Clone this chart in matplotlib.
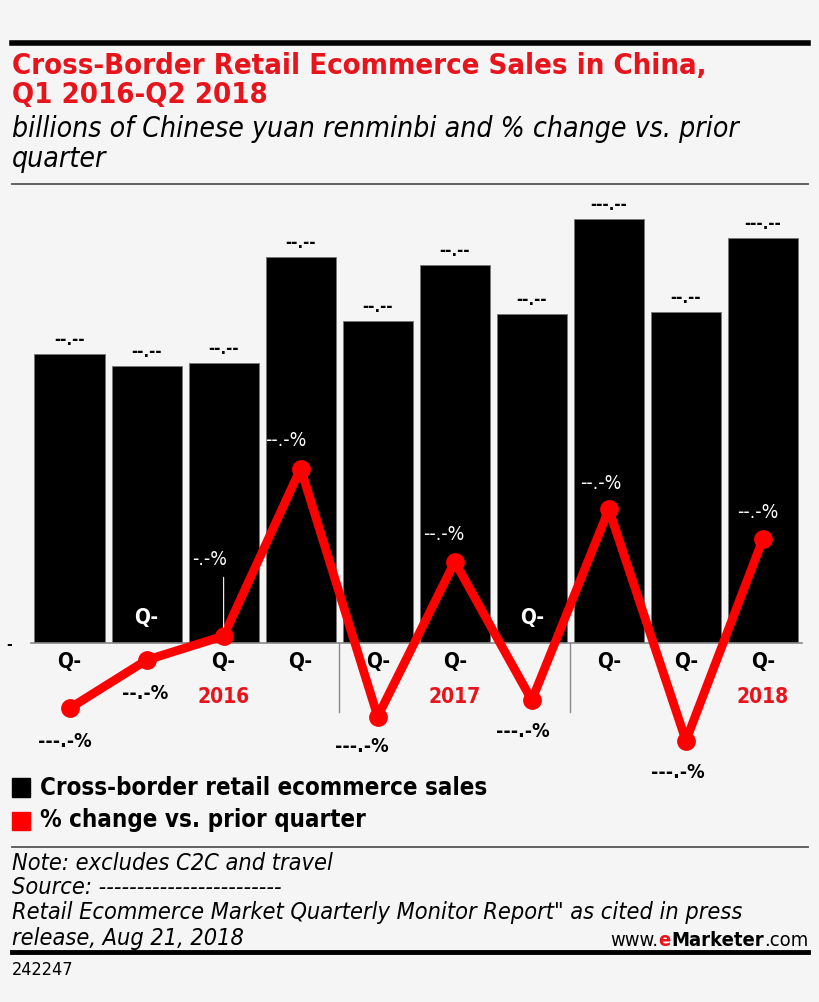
import matplotlib
matplotlib.use("Agg")
import matplotlib.pyplot as plt
from matplotlib.transforms import blended_transform_factory
from matplotlib.patches import Rectangle
from matplotlib.lines import Line2D

# ---------------- data ----------------
quarters = ["Q1 2016", "Q2 2016", "Q3 2016", "Q4 2016", "Q1 2017",
            "Q2 2017", "Q3 2017", "Q4 2017", "Q1 2018", "Q2 2018"]
q_labels = ["Q-"] * 10
sales = [72.25, 69.25, 70.0, 96.5, 80.5, 94.5, 82.25, 106.0, 82.75, 101.25]
sales_labels = ["--.--", "--.--", "--.--", "--.--", "--.--",
                "--.--", "--.--", "---.--", "--.--", "---.--"]
pct_change = [-14.8, -4.2, 1.1, 37.9, -16.6, 17.4, -13.0, 28.9, -21.9, 22.4]
pct_labels = ["---.-%", "--.-%", "-.-%", "--.-%", "---.-%",
              "--.-%", "---.-%", "--.-%", "---.-%", "--.-%"]
years = ["2016", "2017", "2018"]
year_pos = [2, 5, 9]
title = "Cross-Border Retail Ecommerce Sales in China,\nQ1 2016-Q2 2018"
subtitle = "billions of Chinese yuan renminbi and % change vs. prior\nquarter"
legend_labels = ["Cross-border retail ecommerce sales", "% change vs. prior quarter"]
notes = ["Note: excludes C2C and travel",
         "Source: ------------------------",
         "Retail Ecommerce Market Quarterly Monitor Report\" as cited in press",
         "release, Aug 21, 2018"]
chart_id = "242247"

# ---------------- style / layout ----------------
W, H = 820, 1002
BG = "#f5f5f5"
RED = "#ff0000"
TRED = "#e8141c"
plt.rcParams["font.family"] = ["DejaVu Sans"]
plt.rcParams["font.stretch"] = "condensed"
ST = "condensed"
# label offsets (points) for the % labels
pct_dx = [-3.6, -0.7, -10, -11, -11.5, -8, -6.5, -6, -5.8, -4]
pct_dy = [-17, -17, 48, 13, -15, 13, -16, 12, -16, 12]

fig = plt.figure(figsize=(W / 100, H / 100), dpi=100, facecolor=BG)

def fy(py):
    return 1 - py / H

def fx(px):
    return px / W

ax = fig.add_axes([fx(31), fy(643), fx(801.5) - fx(31), fy(200) - fy(643)])
ax.set_facecolor("none")
x = list(range(len(quarters)))
ax.bar(x, sales, width=0.91, color="black", edgecolor="#777777", linewidth=0.6, zorder=2)
ax.set_xlim(-0.5, 9.5)
ax.set_ylim(0, 110.75)
for s in ["top", "right", "left"]:
    ax.spines[s].set_visible(False)
ax.spines["bottom"].set_color("#888888")
ax.spines["bottom"].set_linewidth(1.2)
ax.set_xticks([])
ax.set_yticks([0])
ax.set_yticklabels(["-"], fontsize=11, fontweight="bold", fontstretch=ST)
ax.tick_params(axis="y", length=0, pad=14)

for xi, v, lab in zip(x, sales, sales_labels):
    ax.annotate(lab, (xi, v), xytext=(0, 3.5), textcoords="offset points",
                ha="center", va="bottom", fontsize=12, fontweight="bold",
                fontstretch=ST, color="black")

ax2 = ax.twinx()
ax2.set_ylim(-0.44, 96.9)
ax2.axis("off")
ax2.plot(x, pct_change, color=RED, linewidth=6.3, marker="o", markersize=12.5,
         solid_joinstyle="round", clip_on=False, zorder=5)

tr = blended_transform_factory(ax.transData, fig.transFigure)

for i, (v, lab) in enumerate(zip(pct_change, pct_labels)):
    dx, dy = pct_dx[i], pct_dy[i]
    if v > 0:
        ax2.annotate(lab, (i, v), xytext=(dx, dy), textcoords="offset points",
                     ha="center", va="bottom", fontsize=14, color="white",
                     fontstretch=ST, zorder=6, annotation_clip=False)
        if i == 2:
            ax2.annotate("", (i, v + 1.3), xytext=(i, v + 13.5), textcoords="data",
                         arrowprops=dict(arrowstyle="-", color="white", lw=0.8),
                         zorder=6, annotation_clip=False)
    else:
        ax2.annotate(lab, (i, v), xytext=(dx, dy), textcoords="offset points",
                     ha="center", va="top", fontsize=14, color="black",
                     fontweight="bold", fontstretch=ST, zorder=6,
                     annotation_clip=False)

for i, lab in enumerate(q_labels):
    if i in (1, 6):
        fig.text(i, fy(618), lab, transform=tr, ha="center", va="center",
                 fontsize=15, fontweight="bold", fontstretch=ST, color="white", zorder=7)
    else:
        fig.text(i, fy(662), lab, transform=tr, ha="center", va="center",
                 fontsize=15, fontweight="bold", fontstretch=ST, color="black")
for yl, p in zip(years, year_pos):
    fig.text(p, fy(697), yl, transform=tr, ha="center", va="center",
             fontsize=15, fontweight="bold", fontstretch=ST, color=TRED)
for sep in (3.5, 6.5):
    fig.add_artist(Line2D([sep, sep], [fy(643), fy(712)], transform=tr,
                          color="#888888", lw=1.0))

# ---------------- header ----------------
fig.add_artist(Line2D([fx(12), fx(808)], [fy(43), fy(43)], color="black", lw=4))
fig.text(fx(12), fy(52), title, ha="left", va="top", fontsize=21, fontweight="bold",
         fontstretch=ST, color=TRED, linespacing=1.05)
fig.text(fx(12), fy(115), subtitle, ha="left", va="top", fontsize=20.3, style="italic",
         fontstretch=ST, color="black", linespacing=1.08)
fig.add_artist(Line2D([fx(12), fx(808)], [fy(184), fy(184)], color="#555555", lw=1.3))

# ---------------- legend ----------------
fig.add_artist(Rectangle((fx(12), fy(797)), fx(18), fy(778) - fy(797), color="black"))
fig.text(fx(40), fy(788), legend_labels[0], ha="left", va="center", fontsize=17.3,
         fontweight="bold", fontstretch=ST)
fig.add_artist(Rectangle((fx(12), fy(830)), fx(18), fy(812) - fy(830), color=RED))
fig.text(fx(40), fy(820), legend_labels[1], ha="left", va="center", fontsize=17.3,
         fontweight="bold", fontstretch=ST)

# ---------------- footer ----------------
fig.add_artist(Line2D([fx(12), fx(808)], [fy(847), fy(847)], color="#555555", lw=1.3))
for k, n in enumerate(notes):
    fig.text(fx(12), fy(863 + 25 * k), n, ha="left", va="center", fontsize=16.8,
             style="italic", fontstretch=ST)
fig.canvas.draw()
r = fig.canvas.get_renderer()
parts = [("www.", "normal", "black"), ("e", "bold", TRED), ("Marketer", "bold", "black"),
         (".com", "normal", "black")]
widths = []
for s, w, c in parts:
    tt = fig.text(0, 0, s, fontsize=14.5, fontweight=w, fontstretch=ST)
    widths.append(tt.get_window_extent(r).width)
    tt.remove()
xcur = 808 - sum(widths)
for (s, w, c), wd in zip(parts, widths):
    fig.text(fx(xcur), fy(941), s, ha="left", va="center", fontsize=14.5, fontweight=w,
             fontstretch=ST, color=c)
    xcur += wd
fig.add_artist(Line2D([fx(12), fx(808)], [fy(952), fy(952)], color="black", lw=3.5))
fig.text(fx(12), fy(970), chart_id, ha="left", va="center", fontsize=13, fontstretch=ST)

fig.savefig("out.png", dpi=100, facecolor=BG)
